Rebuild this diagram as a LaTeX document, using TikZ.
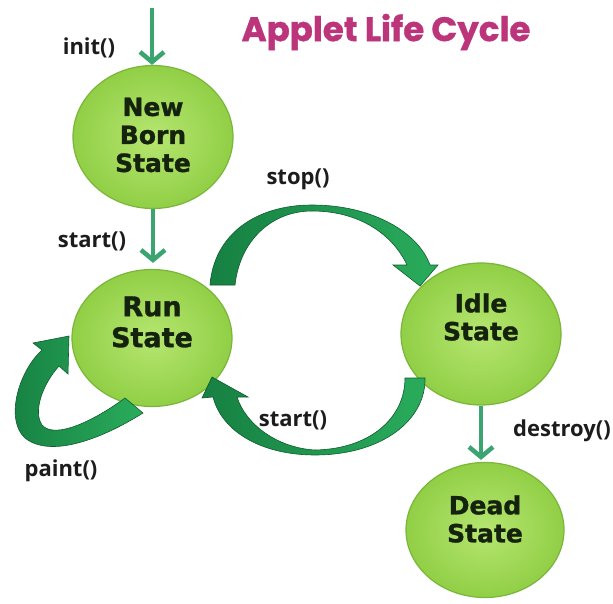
\documentclass[tikz,border=0pt]{standalone}
\usepackage{fontspec}
\setmainfont{DejaVu Sans}
\newfontfamily\statefont{DejaVu Sans}[BoldFeatures={FakeBold=1.2}]
\newfontfamily\labelfont{Open Sans}
\newfontfamily\titlefont{Poppins}[BoldFeatures={FakeBold=1}]
\usetikzlibrary{shapes.geometric,arrows.meta}
\definecolor{stategreen}{RGB}{145,207,70}
\definecolor{statelight}{RGB}{182,230,112}
\definecolor{stateedge}{RGB}{122,182,58}
\definecolor{banddark}{RGB}{22,128,66}
\definecolor{bandlight}{RGB}{42,172,92}
\definecolor{bandedge}{RGB}{14,92,46}
\definecolor{thingreen}{RGB}{58,165,112}
\definecolor{titlepink}{RGB}{188,52,122}
\definecolor{statetext}{RGB}{20,34,14}
\definecolor{labeltext}{RGB}{28,28,28}
\begin{document}
\begin{tikzpicture}[x=1pt,y=-1pt,
  state/.style={ellipse, inner sep=0pt, minimum width=160pt, minimum height=142pt,
    draw=stateedge, line width=1.2pt, inner color=statelight, outer color=stategreen},
  statelabel/.style={font=\statefont\bfseries\fontsize{25}{28}\selectfont, text=statetext,
    align=center, inner sep=0pt},
  methodlabel/.style={font=\labelfont\bfseries\fontsize{22}{26}\selectfont,
    text=labeltext, inner sep=0pt},
  titlelabel/.style={font=\titlefont\bfseries\fontsize{34}{38}\selectfont,
    text=titlepink, inner sep=0pt},
  thinarrow/.style={draw=thingreen, line width=4.5pt,
    -{Straight Barb[length=10pt,width=24pt]}},
  band/.style={left color=banddark, right color=bandlight, draw=bandedge, line width=0.6pt},
  ]
\useasboundingbox (0,0) rectangle (613,604);
\fill[white] (0,0) rectangle (613,604);

% states
\node[state, minimum height=143pt] (newborn) at (153,137) {};
\node[state, minimum height=137pt] (run) at (152,338) {};
\node[state] (idle) at (481,334) {};
\node[state, minimum width=158pt, minimum height=135pt] (dead) at (485,530) {};

% thin arrows
\coordinate (initstart) at (152,8);
\draw[thinarrow] (initstart) -- (initstart |- newborn.north);
\draw[thinarrow, shorten >=6pt] (newborn.south) -- (newborn.south |- run.north);
\draw[thinarrow, shorten >=2pt] (idle.south) -- (idle.south |- dead.north);

% stop() band arrow
\path[band] (210,285) .. controls (214,235) and (255,205) .. (312,205)
  .. controls (372,205) and (418,232) .. (430,265) -- (438,265) -- (420,286)
  -- (393,265) -- (407,265) .. controls (393,235) and (360,211) .. (312,211)
  .. controls (272,211) and (240,240) .. (235,285) -- cycle;

% lower start() band arrow
\path[band] (405,378) .. controls (405,418) and (370,449) .. (315,450)
  .. controls (278,448) and (246,425) .. (237,397) -- (248,397) -- (212,377)
  -- (202,398) -- (213,397) .. controls (222,432) and (262,455) .. (315,455)
  .. controls (382,455) and (426,420) .. (425,378) -- cycle;

% paint() band arrow
\path[band] (143,413) .. controls (100,440) and (50,458) .. (25,438)
  .. controls (5,420) and (18,372) .. (42,350) -- (33,343) -- (69,336)
  -- (68,374) -- (59,366) .. controls (42,385) and (33,412) .. (42,425)
  .. controls (55,440) and (95,420) .. (125,398) -- cycle;

% state texts
\node[statelabel] (newborntext) at (153,135) {New\\Born\\State};
\node[statelabel, font=\statefont\bfseries\fontsize{27}{31}\selectfont] (runtext) at (152,322) {Run\\State};
\node[statelabel] (idletext) at (481,317) {Idle\\State};
\node[statelabel] (deadtext) at (485,519) {Dead\\State};

% method labels
\node[methodlabel] (initlbl) at (89,48) {init()};
\node[methodlabel] (startlbl) at (92,241) {start()};
\node[methodlabel] (stoplbl) at (298,179) {stop()};
\node[methodlabel] (startlbltwo) at (293,420) {start()};
\node[methodlabel] (destroylbl) at (562,431) {destroy()};
\node[methodlabel] (paintlbl) at (61,471) {paint()};

% title
\node[titlelabel] (title) at (386,32) {Applet Life Cycle};
\end{tikzpicture}
\end{document}
